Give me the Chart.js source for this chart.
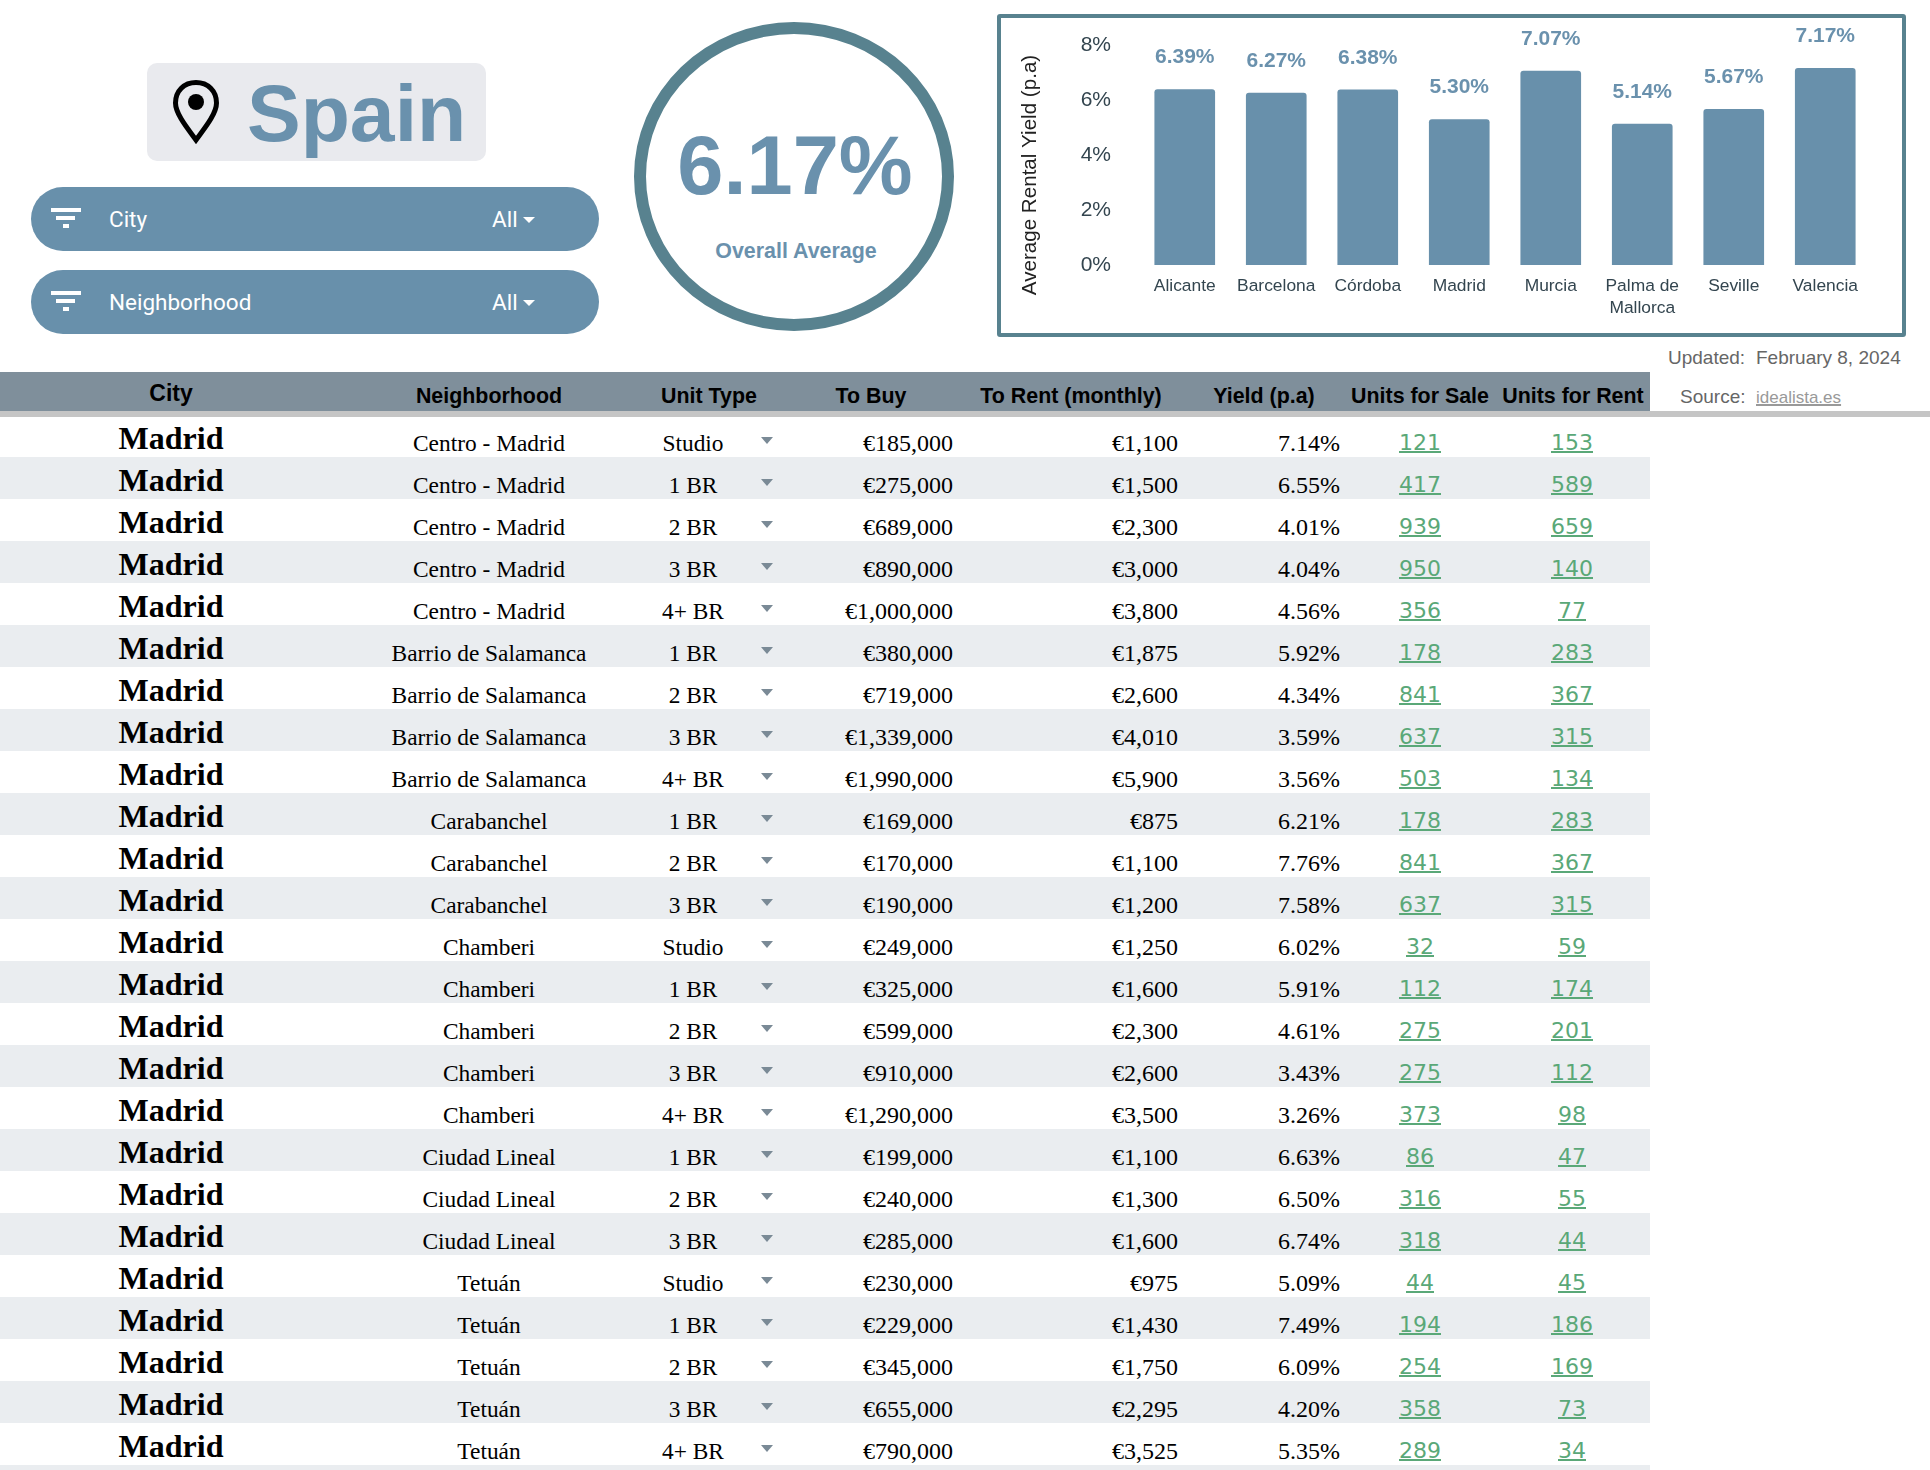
<!DOCTYPE html>
<html>
<head>
<meta charset="utf-8">
<title>Spain rental yield</title>
<script src="https://cdn.jsdelivr.net/npm/chart.js@4"></script>
<style>
    html, body { margin: 0; padding: 0; background: #fff; }
    body { position: relative; width: 1930px; height: 1470px; overflow: hidden; font-family: "Liberation Sans", sans-serif; }
    .abs { position: absolute; }
    .title-box { left: 147px; top: 63px; width: 339px; height: 98px; background: #e9eaee; border-radius: 10px; }
    .title-text { left: 247px; top: 67px; font: bold 80.5px "Liberation Sans"; color: #6a91ad; line-height: 92px; }
    .pill { left: 31px; width: 568px; height: 64px; background: #6890ab; border-radius: 32px; color: #fff; font: 22.5px Roboto; }
    .pill .bar { position: absolute; background: #fff; height: 4px; }
    .pill .label { position: absolute; left: 78px; top: 0; line-height: 64px; }
    .pill .all { position: absolute; left: 461px; top: 0; line-height: 64px; }
    .pill .caret { position: absolute; left: 492px; top: 30px; width: 0; height: 0; border-left: 6.5px solid transparent; border-right: 6.5px solid transparent; border-top: 6px solid #fff; }
    .ring { left: 634px; top: 22px; width: 296px; height: 285px; border: 12px solid #58828f; border-radius: 50%; }
    .big { left: 635px; width: 320px; text-align: center; top: 120px; font: bold 83px "Liberation Sans"; color: #6a91ad; line-height: 92px; }
    .sub { left: 636px; width: 320px; text-align: center; top: 238px; font: bold 21.4px "Liberation Sans"; color: #6a91ad; line-height: 26px; }
    .chart-box { left: 997px; top: 14px; width: 901px; height: 315px; border: 4px solid #58828f; border-radius: 3px; }
    .chart-box canvas { display: block; }
    .meta { font: 19px "Liberation Sans"; color: #666; white-space: nowrap; line-height: 22px; }
    .meta a { color: #999; font-size: 17px; text-decoration: underline; text-decoration-thickness: 2px; }
    .head { left: 0; top: 372px; width: 1650px; height: 39px; background: #7f8f9b; }
    .head-rule { left: 0; top: 411px; width: 1930px; height: 6px; background: #c5c5c5; }
    .th { position: absolute; font: bold 21.4px "Liberation Sans"; color: #000; top: 12px; line-height: 24px; white-space: nowrap; transform: translateX(-50%); }
    .row { position: absolute; left: 0; width: 1650px; height: 42px; }
    .row.alt { background: #eaedf0; }
    .cell { position: absolute; top: 15px; line-height: 26px; font: 23.4px "Liberation Serif"; color: #000; white-space: nowrap; }
    .num { font-size: 24px; }
    .center { transform: translateX(-50%); }
    .right { transform: translateX(-100%); }
    .city { top: 6px; font: bold 32px "Liberation Serif"; line-height: 34px; }
    .link { top: 14px; font: 22px "DejaVu Sans"; color: #5aa878; text-decoration: underline; text-decoration-thickness: 2px; line-height: 28px; }
    .arrow { position: absolute; left: 761px; top: 22px; width: 0; height: 0; border-left: 6.5px solid transparent; border-right: 6.5px solid transparent; border-top: 7px solid #7a8a96; }
</style>
</head>
<body>
<div class="abs title-box"></div>
<svg class="abs" style="left:172px;top:78px" width="48" height="68" viewBox="0 0 48 68">
    <path d="M24 4.5 C12 4.5 3.5 13 3.5 25 C3.5 36 16 51 24 62 C32 51 44.5 36 44.5 25 C44.5 13 36 4.5 24 4.5 Z" fill="none" stroke="#000" stroke-width="5"/>
    <circle cx="24" cy="24" r="8" fill="#000"/>
</svg>
<div class="abs title-text">Spain</div>

<div class="abs pill" style="top:187px" id="pillCity"></div>
<div class="abs pill" style="top:270px" id="pillHood"></div>

<div class="abs ring"></div>
<div class="abs big">6.17%</div>
<div class="abs sub">Overall Average</div>

<div class="abs chart-box"><canvas id="yieldChart" width="900" height="315"></canvas></div>

<div class="abs meta" style="left:1668px;top:347px">Updated:</div>
<div class="abs meta" style="left:1756px;top:347px">February 8, 2024</div>
<div class="abs meta" style="left:1680px;top:386px">Source:</div>
<div class="abs meta" style="left:1756px;top:386px"><a>idealista.es</a></div>

<div class="abs head" id="tableHead"></div>
<div id="tableBody"></div>
<div class="abs head-rule"></div>

<script>
// Chart data
const cities = ['Alicante', 'Barcelona', 'Córdoba', 'Madrid', 'Murcia', ['Palma de', 'Mallorca'], 'Seville', 'Valencia'];
const cityYields = [6.39, 6.27, 6.38, 5.30, 7.07, 5.14, 5.67, 7.17];
const yTicks = [0, 2, 4, 6, 8];

// Table data
const headers = ['City', 'Neighborhood', 'Unit Type', 'To Buy', 'To Rent (monthly)', 'Yield (p.a)', 'Units for Sale', 'Units for Rent'];
const rowCity = 'Madrid';
const neighborhoods = [
    'Centro - Madrid', 'Centro - Madrid', 'Centro - Madrid', 'Centro - Madrid', 'Centro - Madrid',
    'Barrio de Salamanca', 'Barrio de Salamanca', 'Barrio de Salamanca', 'Barrio de Salamanca',
    'Carabanchel', 'Carabanchel', 'Carabanchel',
    'Chamberi', 'Chamberi', 'Chamberi', 'Chamberi', 'Chamberi',
    'Ciudad Lineal', 'Ciudad Lineal', 'Ciudad Lineal',
    'Tetuán', 'Tetuán', 'Tetuán', 'Tetuán', 'Tetuán'
];
const unitTypes = [
    'Studio', '1 BR', '2 BR', '3 BR', '4+ BR',
    '1 BR', '2 BR', '3 BR', '4+ BR',
    '1 BR', '2 BR', '3 BR',
    'Studio', '1 BR', '2 BR', '3 BR', '4+ BR',
    '1 BR', '2 BR', '3 BR',
    'Studio', '1 BR', '2 BR', '3 BR', '4+ BR'
];
const toBuy = [
    '€185,000', '€275,000', '€689,000', '€890,000', '€1,000,000',
    '€380,000', '€719,000', '€1,339,000', '€1,990,000',
    '€169,000', '€170,000', '€190,000',
    '€249,000', '€325,000', '€599,000', '€910,000', '€1,290,000',
    '€199,000', '€240,000', '€285,000',
    '€230,000', '€229,000', '€345,000', '€655,000', '€790,000'
];
const toRent = [
    '€1,100', '€1,500', '€2,300', '€3,000', '€3,800',
    '€1,875', '€2,600', '€4,010', '€5,900',
    '€875', '€1,100', '€1,200',
    '€1,250', '€1,600', '€2,300', '€2,600', '€3,500',
    '€1,100', '€1,300', '€1,600',
    '€975', '€1,430', '€1,750', '€2,295', '€3,525'
];
const yields = [
    '7.14%', '6.55%', '4.01%', '4.04%', '4.56%',
    '5.92%', '4.34%', '3.59%', '3.56%',
    '6.21%', '7.76%', '7.58%',
    '6.02%', '5.91%', '4.61%', '3.43%', '3.26%',
    '6.63%', '6.50%', '6.74%',
    '5.09%', '7.49%', '6.09%', '4.20%', '5.35%'
];
const unitsForSale = [
    121, 417, 939, 950, 356,
    178, 841, 637, 503,
    178, 841, 637,
    32, 112, 275, 275, 373,
    86, 316, 318,
    44, 194, 254, 358, 289
];
const unitsForRent = [
    153, 589, 659, 140, 77,
    283, 367, 315, 134,
    283, 367, 315,
    59, 174, 201, 112, 98,
    47, 55, 44,
    45, 186, 169, 73, 34
];

// Layout constants
const ROW_TOP = 415;
const ROW_HEIGHT = 42;
const HEAD_X = [171, 489, 709, 871, 1071, 1264, 1420, 1573];

function addCell(parent, text, className, x) {
    const el = document.createElement('span');
    el.className = className;
    el.style.left = x + 'px';
    el.textContent = text;
    parent.appendChild(el);
    return el;
}

function buildPill(id, label) {
    const pill = document.getElementById(id);
    [[20, 21, 30], [25, 29, 19], [32, 37, 6]].forEach(([x, y, w]) => {
        const bar = document.createElement('div');
        bar.className = 'bar';
        bar.style.left = x + 'px';
        bar.style.top = y + 'px';
        bar.style.width = w + 'px';
        pill.appendChild(bar);
    });
    addCell(pill, label, 'label', 78);
    addCell(pill, 'All', 'all', 461);
    const caret = document.createElement('div');
    caret.className = 'caret';
    pill.appendChild(caret);
}

function buildTable() {
    const head = document.getElementById('tableHead');
    headers.forEach((h, i) => {
        const th = addCell(head, h, 'th', HEAD_X[i]);
        if (i === 0) {
            th.style.fontSize = '23px';
            th.style.top = '9px';
        }
    });

    const body = document.getElementById('tableBody');
    // one extra striped row is cut off by the bottom of the page
    for (let i = 0; i <= neighborhoods.length; i++) {
        const row = document.createElement('div');
        row.className = 'row' + (i % 2 === 1 ? ' alt' : '');
        row.style.top = (ROW_TOP + i * ROW_HEIGHT) + 'px';
        body.appendChild(row);
        if (i === neighborhoods.length) break;

        addCell(row, rowCity, 'cell city center', 171);
        addCell(row, neighborhoods[i], 'cell center', 489);
        addCell(row, unitTypes[i], 'cell center', 693);
        const arrow = document.createElement('div');
        arrow.className = 'arrow';
        row.appendChild(arrow);
        addCell(row, toBuy[i], 'cell num right', 953);
        addCell(row, toRent[i], 'cell num right', 1178);
        addCell(row, yields[i], 'cell num right', 1340);
        addCell(row, unitsForSale[i], 'cell link center', 1420);
        addCell(row, unitsForRent[i], 'cell link center', 1572);
    }
}

// Draws the percentage above each bar and the y axis title,
// which sits centred on the box rather than on the plot area
const barValueLabels = {
    id: 'barValueLabels',
    afterDatasetsDraw(chart) {
        const { ctx } = chart;
        const meta = chart.getDatasetMeta(0);
        ctx.save();
        ctx.font = 'bold 21px "Liberation Sans"';
        ctx.fillStyle = '#6a91ad';
        ctx.textAlign = 'center';
        ctx.textBaseline = 'middle';
        meta.data.forEach((bar, i) => {
            ctx.fillText(cityYields[i].toFixed(2) + '%', bar.x, bar.y - 32);
        });
        ctx.translate(29, 157);
        ctx.rotate(-Math.PI / 2);
        ctx.font = '20.6px "Liberation Sans"';
        ctx.fillStyle = '#222';
        ctx.fillText('Average Rental Yield (p.a)', 0, 0);
        ctx.restore();
    }
};

function buildChart() {
    new Chart(document.getElementById('yieldChart'), {
        type: 'bar',
        plugins: [barValueLabels],
        data: {
            labels: cities,
            datasets: [{
                data: cityYields,
                backgroundColor: '#6890ab',
                borderRadius: { topLeft: 3, topRight: 3 },
                borderSkipped: 'bottom',
                barThickness: 60
            }]
        },
        options: {
            responsive: false,
            animation: false,
            layout: { padding: { top: 27.5, right: 30, bottom: 0, left: 20 } },
            plugins: { legend: { display: false }, tooltip: { enabled: false } },
            scales: {
                x: {
                    grid: { display: false, drawTicks: false },
                    border: { display: false },
                    afterFit: (scale) => { scale.height = 68; },
                    ticks: {
                        padding: 10,
                        maxRotation: 0,
                        autoSkip: false,
                        color: '#33454f',
                        font: { family: 'Liberation Sans', size: 17.4, lineHeight: 1.27 }
                    }
                },
                y: {
                    min: 0,
                    max: 8,
                    grid: { display: false, drawTicks: false },
                    border: { display: false },
                    // tick padding would otherwise be added above and below the plot
                    afterFit: (scale) => {
                        scale.width = 118;
                        scale.paddingTop = 0;
                        scale.paddingBottom = 0;
                    },
                    afterBuildTicks: (scale) => { scale.ticks = yTicks.map((v) => ({ value: v })); },
                    ticks: {
                        padding: 28,
                        color: '#33454f',
                        font: { family: 'Liberation Sans', size: 21 },
                        callback: (v) => v + '%'
                    }
                }
            }
        }
    });
}

buildPill('pillCity', 'City');
buildPill('pillHood', 'Neighborhood');
buildTable();
buildChart();
</script>
</body>
</html>
